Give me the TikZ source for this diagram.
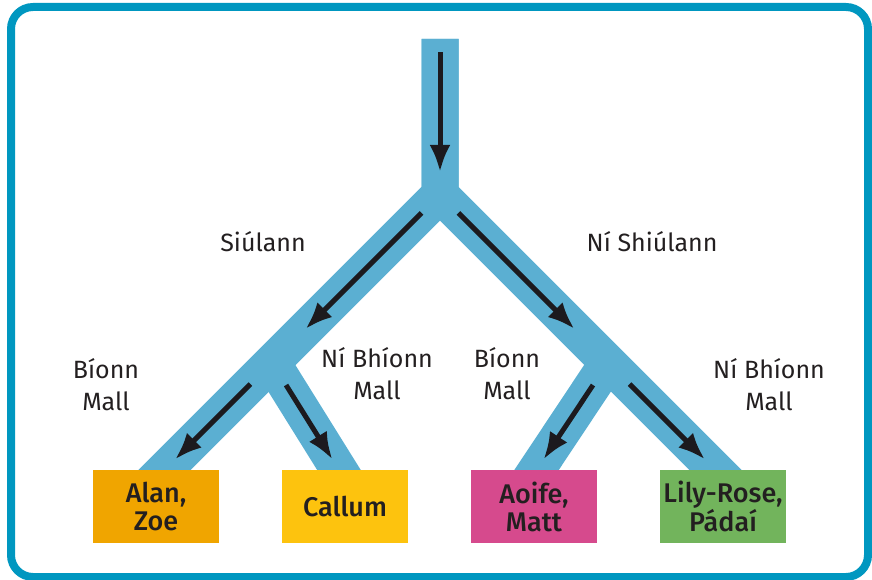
\documentclass[tikz,border=0pt]{standalone}
\usepackage{fontspec}
\setmainfont{Fira Sans}[BoldFont={Fira Sans Medium}]
\usetikzlibrary{arrows.meta}
\usetikzlibrary{calc}
\tikzset{>={Latex[length=27pt,width=21pt]}}
\definecolor{framecol}{RGB}{0,151,192}
\definecolor{pathblue}{RGB}{91,175,210}
\definecolor{arrowblack}{RGB}{28,26,30}
\definecolor{textgrey}{RGB}{35,31,32}
\definecolor{alanorange}{RGB}{240,165,0}
\definecolor{callumyellow}{RGB}{253,195,14}
\definecolor{aoifepink}{RGB}{214,74,141}
\definecolor{lilygreen}{RGB}{114,180,92}
\tikzstyle{band}=[draw=pathblue,line width=37pt,line join=miter]
\tikzstyle{walkarrow}=[->,draw=arrowblack,line width=5pt]
\tikzstyle{childbox}=[minimum width=126pt,minimum height=73pt,inner sep=0pt,align=center,text=textgrey,font=\fontsize{27}{28}\selectfont\bfseries]
\tikzstyle{choice}=[align=center,text=textgrey,font=\fontsize{25}{32}\selectfont]

\begin{document}
\begin{tikzpicture}[x=1pt,y=-1pt]
    \useasboundingbox (0,0) rectangle (872,580);
    \draw[framecol,line width=8pt,rounded corners=22pt] (11,7) rectangle (868,577);
    
    % the paths through the tree
    \coordinate (top) at (440,39);
    \coordinate (fork) at (440,194.5);
    \coordinate (forkL) at (272,362.5);
    \coordinate (forkR) at (608,362.5);
    \coordinate (endA) at (128.5,506);
    \coordinate (endC) at (361.4,506);
    \coordinate (endM) at (512.6,506);
    \coordinate (endL) at (751.5,506);
    \draw[band] (top) -- (fork) -- (endA);
    \draw[band] (top) -- (fork) -- (endL);
    \draw[band] (forkL) -- (endC);
    \draw[band] (forkR) -- (endM);
    
    \node[childbox,fill=alanorange] (alan) at (156,506.5) {Alan,\\Zoe};
    \node[childbox,fill=callumyellow] (callum) at (345,506.5) {Callum};
    \node[childbox,fill=aoifepink] (aoife) at (534,506.5) {Aoife,\\Matt};
    \node[childbox,fill=lilygreen] (lily) at (723,506.5) {Lily-Rose,\\Pádaí};
    
    \draw[walkarrow] ($(top)!0.084!(fork)$) -- ($(top)!0.855!(fork)$);
    \draw[walkarrow] ($(fork)!0.11!(forkL)$) -- ($(fork)!0.8!(forkL)$);
    \draw[walkarrow] ($(fork)!0.11!(forkR)$) -- ($(fork)!0.8!(forkR)$);
    \draw[walkarrow] ($(forkL)!0.15!(endA)$) -- ($(forkL)!0.675!(endA)$);
    \draw[walkarrow] ($(forkL)!0.157!(endC)$) -- ($(forkL)!0.675!(endC)$);
    \draw[walkarrow] ($(forkR)!0.157!(endM)$) -- ($(forkR)!0.675!(endM)$);
    \draw[walkarrow] ($(forkR)!0.15!(endL)$) -- ($(forkR)!0.675!(endL)$);
    
    \node[choice] (walks) at (263,242) {Siúlann};
    \node[choice] (nowalk) at (652,242) {Ní Shiúlann};
    \node[choice] (slowA) at (106,385) {Bíonn\\Mall};
    \node[choice] (notslowA) at (377,374) {Ní Bhíonn\\Mall};
    \node[choice] (slowB) at (507,374) {Bíonn\\Mall};
    \node[choice] (notslowB) at (769,385) {Ní Bhíonn\\Mall};
\end{tikzpicture}
\end{document}
